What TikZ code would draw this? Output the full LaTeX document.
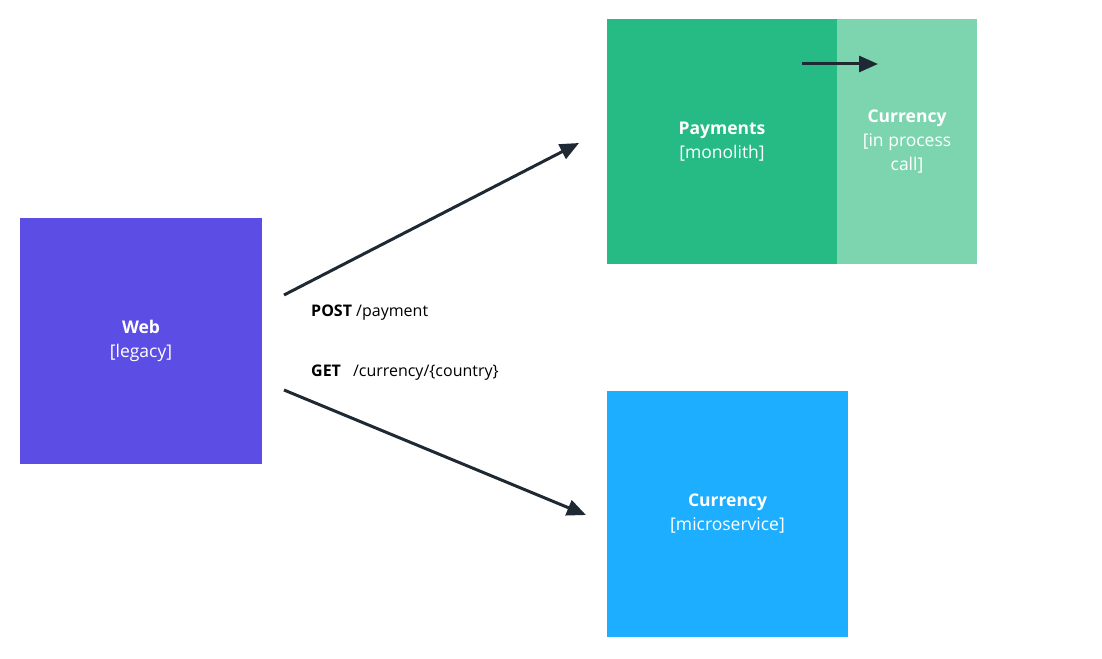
\documentclass[tikz,border=0pt]{standalone}
\usepackage{fontspec}
\setmainfont{Open Sans}
\usepackage{tikz}
\usetikzlibrary{arrows.meta}

\definecolor{webblue}{RGB}{92,78,229}
\definecolor{paygreen}{RGB}{38,187,132}
\definecolor{lightgreen}{RGB}{125,213,176}
\definecolor{curblue}{RGB}{30,174,255}
\definecolor{linedark}{RGB}{31,41,51}

\begin{document}
\begin{tikzpicture}[x=1pt, y=-1pt, >={Triangle[length=19pt,width=16pt]},
    box/.style={rectangle, inner sep=0pt, text=white, align=center,
        font=\fontsize{17.5}{24}\selectfont},
    lbl/.style={anchor=base west, inner sep=0pt, font=\fontsize{16}{18}\selectfont},
    call/.style={->, line width=3pt, draw=linedark}]
    \useasboundingbox (0,0) rectangle (1102,658);

    \node[box, fill=webblue, minimum width=242pt, minimum height=246pt] (Web) at (141,341) {\textbf{Web}\\{}[legacy]};
    \node[box, fill=paygreen, minimum width=230pt, minimum height=245pt] (Pay) at (722,141.5) {\textbf{Payments}\\{}[monolith]};
    \node[box, fill=lightgreen, minimum width=140pt, minimum height=245pt] (Inproc) at (907,141.5) {\textbf{Currency}\\{}[in process\\call]};
    \node[box, fill=curblue, minimum width=241pt, minimum height=246pt] (Cur) at (727.5,514) {\textbf{Currency}\\{}[microservice]};

    \coordinate (postA) at (284,295);
    \coordinate (postB) at (579,143);
    \coordinate (getA) at (284,390);
    \coordinate (getB) at (586,515);
    \coordinate (callA) at (802,64);
    \coordinate (callB) at (878,64);

    \draw[call] (postA) -- (postB);
    \draw[call] (getA) -- (getB);
    \draw[call] (callA) -- (callB);

    \node[lbl] (post) at (311,316) {\textbf{POST} /payment};
    \node[lbl] (get) at (311,376) {\textbf{GET}\hspace{12pt}/currency/\{country\}};
\end{tikzpicture}
\end{document}
